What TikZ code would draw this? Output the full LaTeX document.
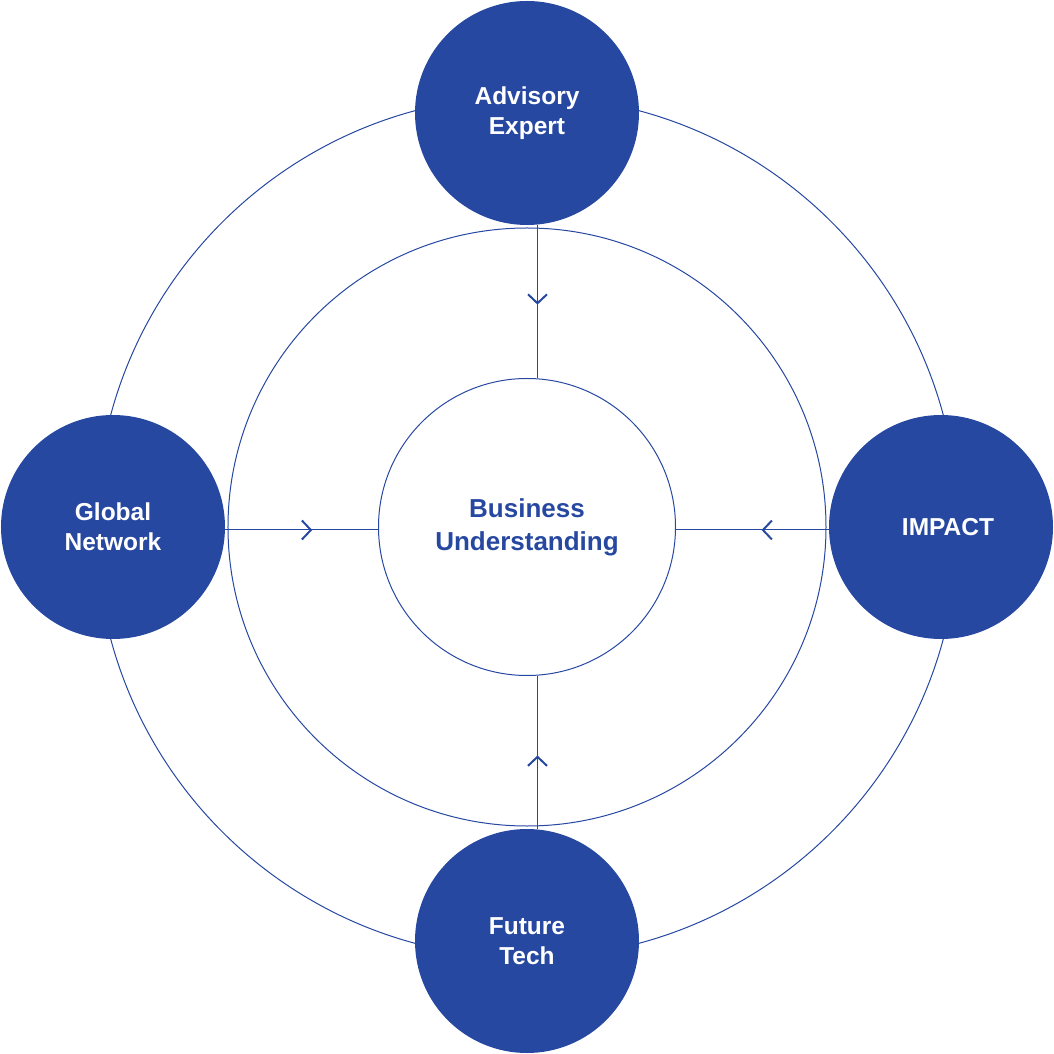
\documentclass[tikz,border=0pt]{standalone}
\usepackage{fontspec}
\setmainfont{Liberation Sans}
\usetikzlibrary{arrows.meta,decorations.markings}
\definecolor{navy}{HTML}{2748A1}

\begin{document}
\begin{tikzpicture}[x=1pt,y=1pt,
	ring/.style={draw=navy,line width=1pt},
	pillar/.style={circle,fill=navy,minimum size=224pt,inner sep=0pt,text=white,align=center,font=\bfseries\fontsize{24.5}{30}\selectfont},
	core/.style={circle,draw=navy,line width=1pt,minimum size=297pt,inner sep=0pt,text=navy,align=center,font=\bfseries\fontsize{26}{33}\selectfont},
	flow/.style={draw=navy,line width=1pt,postaction={decorate},
		decoration={markings,mark=at position #1 with {\arrow[navy,line width=2pt]{Straight Barb[length=9pt,width=19pt]}}}}]

\useasboundingbox (-527,-527) rectangle (527,527);

\def\ra{299}
\def\rb{431}
\def\rc{414}

\foreach \r in {\rb,\ra}
	\draw[ring] (0,0) circle (\r);

\node[core] (business) at (0,0) {Business\\Understanding};

\node[pillar] (advisory) at (90:\rc) {Advisory\\Expert};
\node[pillar] (impact) at (0:\rc) {\hspace*{14pt}IMPACT};
\node[pillar] (future) at (270:\rc) {Future\\Tech};
\node[pillar] (global) at (180:\rc) {Global\\Network};

\draw[flow=0.52] ([xshift=10.5pt]advisory.south) -- ([xshift=10.5pt]business.north);
\draw[flow=0.48] ([xshift=10.5pt]future.north) -- ([xshift=10.5pt]business.south);
\draw[flow=0.57] ([yshift=-3pt]global.east) -- ([yshift=-3pt]business.west);
\draw[flow=0.44] ([yshift=-3pt]impact.west) -- ([yshift=-3pt]business.east);
\end{tikzpicture}
\end{document}
